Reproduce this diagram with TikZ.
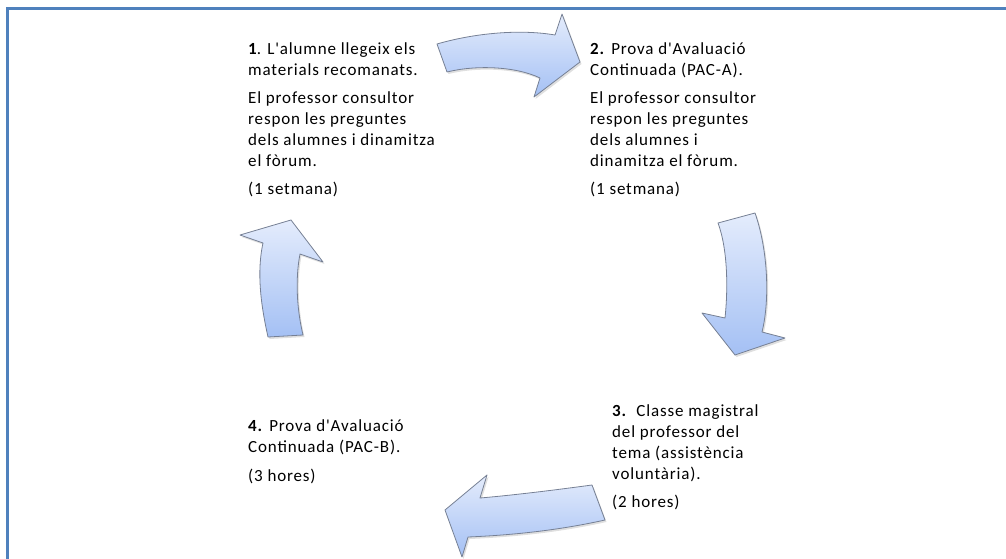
\documentclass[tikz,border=0pt]{standalone}
\usepackage{fontspec}
\newfontfamily\calfont{Carlito}[LetterSpace=5]
\usetikzlibrary{shadows}
\definecolor{frameblue}{RGB}{79,129,189}
\definecolor{arrowtop}{RGB}{228,236,252}
\definecolor{arrowbot}{RGB}{164,192,244}
\definecolor{arrowedge}{RGB}{118,128,148}
\tikzset{
  blockarrow/.style={draw=arrowedge, line width=0.8pt, line join=round,
    top color=arrowtop, bottom color=arrowbot,
    drop shadow={opacity=0.25, shadow xshift=1.5pt, shadow yshift=-2pt}},
  steptext/.style={anchor=north west, align=left, inner sep=0pt,
    font=\calfont\fontsize{17}{21}\selectfont, text=black},
}
\begin{document}
\begin{tikzpicture}[x=1pt, y=-1pt]
\useasboundingbox (0,0) rectangle (1006,559);
% frame
\draw[frameblue, line width=3pt] (7,559) -- (7,9) -- (1006,9);
% texts
\node[steptext] (s1) at (248,42) {\textbf{1}. L'alumne llegeix els\\ materials recomanats.\\[7pt]
El professor consultor\\ respon les preguntes\\ dels alumnes i dinamitza\\ el fòrum.\\[7pt] (1 setmana)};
\node[steptext] (s2) at (590,42) {\textbf{2.} Prova d'Avaluació\\ Continuada (PAC-A).\\[7pt]
El professor consultor\\ respon les preguntes\\ dels alumnes i\\ dinamitza el fòrum.\\[7pt] (1 setmana)};
\node[steptext] (s3) at (612,404) {\textbf{3.}\ \ Classe magistral\\ del professor del\\ tema (assistència\\ voluntària).\\[7pt] (2 hores)};
\node[steptext] (s4) at (248,419) {\textbf{4.} Prova d'Avaluació\\ Continuada (PAC-B).\\[8pt] (3 hores)};
% arrow 1 -> 2
\path[blockarrow] (437,44) .. controls (475,33) and (520,29) .. (555,35) -- (562,14) -- (580,62)
  -- (534,97) -- (540,78) .. controls (515,66) and (475,65) .. (447,72) -- cycle;
% arrow 2 -> 3
\path[blockarrow] (718,223) -- (755,213) .. controls (768,250) and (770,300) .. (762,332)
  -- (785,338) -- (735,355) -- (702,313) -- (725,318) .. controls (728,290) and (728,250) .. cycle;
% arrow 3 -> 4
\path[blockarrow] (592,485) .. controls (555,490) and (515,495) .. (480,498) -- (487,475) -- (445,510)
  -- (462,557) -- (468,537) .. controls (515,535) and (560,530) .. (605,520) -- cycle;
% arrow 4 -> 1
\path[blockarrow] (291,220) -- (323,262) -- (300,254) .. controls (295,280) and (297,310) .. (303,335)
  -- (268,337) .. controls (262,310) and (256,275) .. (263,243) -- (240,235) -- cycle;
\end{tikzpicture}
\end{document}
